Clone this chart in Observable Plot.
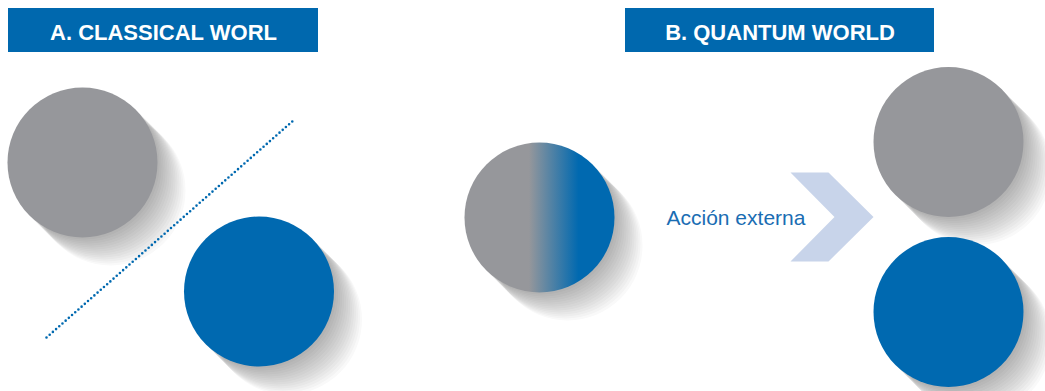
<!DOCTYPE html>
<html>
<head>
<meta charset="utf-8">
<script src="https://cdn.jsdelivr.net/npm/d3@7"></script>
<script src="https://cdn.jsdelivr.net/npm/@observablehq/plot@0.6"></script>
<style>
  html, body { margin: 0; padding: 0; background: #fff; }
  #chart svg { display: block; }
</style>
</head>
<body>
<div id="chart"></div>
<script>
// ---- data ----
const panelTitles = ["A. CLASSICAL WORL", "B. QUANTUM WORLD"];
const panelX1 = [8, 625];
const panelX2 = [318, 934];
const panelY1 = [8, 8];
const panelY2 = [52, 52];
const panelTextWidth = [229, 238];

const circleName = ["classic-0", "classic-1", "superposition", "measured-0", "measured-1"];
const circleX = [82, 258.5, 539, 948, 948];
const circleY = [162, 291, 217, 141.5, 311.5];
const circleR = [75, 75, 75, 75, 75];
const circleKind = ["gray", "blue", "mix", "gray", "blue"];

const dividerX = [46, 294];
const dividerY = [337, 119];

const arrowX = [790, 828, 873, 828, 790, 834, 790];
const arrowY = [172, 172, 216.5, 261, 261, 216.5, 172];

const actionLabel = "Acción externa";
const actionX = 666;
const actionY = 224;

const shadowSteps = [2, 4, 6, 8, 10, 12, 14, 16, 18, 20, 22, 24, 26, 28];

// ---- derived tables ----
const colors = {gray: "#96979b", blue: "#0069b0", mix: "url(#mixGrad)"};
const circles = circleName.map((n, i) => ({name: n, x: circleX[i], y: circleY[i], r: circleR[i], fill: colors[circleKind[i]]}));
const shadows = circles.flatMap(c => shadowSteps.map(o => ({x: c.x + o, y: c.y + o, r: c.r})));
const panels = panelTitles.map((t, i) => ({t, x1: panelX1[i], x2: panelX2[i], y1: panelY1[i], y2: panelY2[i], cx: (panelX1[i] + panelX2[i]) / 2, w: panelTextWidth[i]}));
const divider = dividerX.map((x, i) => ({x, y: dividerY[i]}));
const arrow = arrowX.map((x, i) => ({x, y: arrowY[i]}));

const defs = () => {
  const d = d3.create("svg:defs");
  const g = d.append("linearGradient").attr("id", "mixGrad").attr("x1", 0).attr("x2", 1).attr("y1", 0).attr("y2", 0);
  g.append("stop").attr("offset", 0.43).attr("stop-color", "#96979b");
  g.append("stop").attr("offset", 0.76).attr("stop-color", "#0069b0");
  const f = d.append("filter").attr("id", "shadowBlur").attr("x", "-30%").attr("y", "-30%").attr("width", "160%").attr("height", "160%");
  f.append("feGaussianBlur").attr("stdDeviation", 3.5);
  return d.node();
};

const chart = Plot.plot({
  width: 1045,
  height: 391,
  margin: 0,
  x: {domain: [0, 1045], range: [0, 1045], axis: null},
  y: {domain: [0, 391], range: [0, 391], axis: null},
  r: {type: "identity"},
  style: {background: "#fff", fontFamily: "Liberation Sans, Arial, sans-serif"},
  marks: [
    defs,
    Plot.dot(shadows, {x: "x", y: "y", r: "r", fill: "#222", fillOpacity: 0.028, stroke: null, ariaLabel: "shadow"}),
    Plot.line(divider, {x: "x", y: "y", stroke: "#0069b0", strokeWidth: 2.6, strokeDasharray: "0,4.25", strokeLinecap: "round"}),
    Plot.line(arrow, {x: "x", y: "y", fill: "#c8d4ea", stroke: null}),
    Plot.dot(circles, {x: "x", y: "y", r: "r", fill: "fill", stroke: null}),
    Plot.rect(panels, {x1: "x1", x2: "x2", y1: "y1", y2: "y2", fill: "#0068ae"}),
    Plot.text(panels, {x: "cx", y: 39, text: "t", fill: "#fff", fontSize: 22, fontWeight: "bold", textAnchor: "middle", lineAnchor: "bottom", ariaLabel: "title"}),
    Plot.text([actionLabel], {x: actionX, y: actionY, text: d => d, fill: "#1a6db3", fontSize: 21, textAnchor: "start", lineAnchor: "bottom", ariaLabel: "action"})
  ]
});

d3.select(chart).select('g[aria-label="shadow"]').attr("filter", "url(#shadowBlur)");
d3.select(chart).selectAll('g[aria-label="title"] text').each(function(d, i) {
  d3.select(this).attr("textLength", panels[i].w).attr("lengthAdjust", "spacingAndGlyphs");
});
d3.select(chart).selectAll('g[aria-label="action"] text').attr("textLength", 140).attr("lengthAdjust", "spacingAndGlyphs");

document.getElementById("chart").append(chart);
</script>
</body>
</html>
